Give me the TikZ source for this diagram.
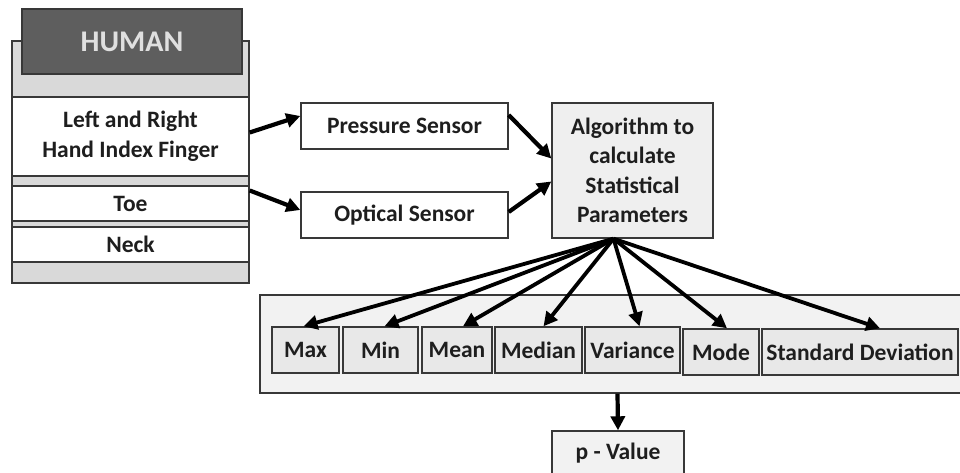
\documentclass[tikz,border=0pt]{standalone}
\usepackage{fontspec}
\setmainfont{Carlito}
\usepackage{tikz}
\usetikzlibrary{arrows.meta,positioning,calc}
\definecolor{edge}{HTML}{383838}
\definecolor{shell}{HTML}{D9D9D9}
\definecolor{slate}{HTML}{5E5E5E}
\definecolor{pale}{HTML}{F2F2F2}
\definecolor{cell}{HTML}{E8E8E8}
\definecolor{ink}{HTML}{1E1E1E}

\begin{document}
\begin{tikzpicture}[x=1pt, y=1pt,
  box/.style={draw=edge, line width=1.4pt, inner sep=0pt, align=center, text=ink,
    font=\fontsize{23.5}{29.5}\selectfont\bfseries},
  stat/.style={box, fill=cell, minimum height=46pt},
  arr/.style={line width=4.2pt, -{Triangle[length=14pt,width=14pt]}}]
  \useasboundingbox (0,0) rectangle (960,473);

  % Body parts stacked on the grey shell
  \node[box, fill=shell, minimum width=237pt, minimum height=242pt] (shell) at (130.5,311) {};
  \node[box, fill=slate, text=white!88!black, minimum width=220pt, minimum height=65pt,
    font=\fontsize{30}{32}\selectfont\bfseries] (human) at (132,431.5) {HUMAN};
  \node[box, fill=white, minimum width=237pt, minimum height=79pt] (finger) at (130.5,336.5) {Left and Right\\Hand Index Finger};
  \node[box, fill=white, minimum width=237pt, minimum height=35pt] (toe) at (130.5,269.5) {Toe};
  \node[box, fill=white, minimum width=237pt, minimum height=35pt] (neck) at (130.5,228.5) {Neck};

  % Sensors and the algorithm block
  \node[box, fill=white, minimum width=207pt, minimum height=46pt] (pressure) at (404.5,347) {Pressure Sensor};
  \node[box, fill=white, minimum width=207pt, minimum height=46pt] (optical) at (404.5,258) {Optical Sensor};
  \node[box, fill=cell!70!white, minimum width=161pt, minimum height=135pt] (algo) at (632.5,302.5)
    {Algorithm to\\calculate\\Statistical\\Parameters};

  \draw[arr] ([yshift=4pt]finger.east) -- ([yshift=10pt]pressure.west);
  \draw[arr] ([yshift=13pt]toe.east) -- ([yshift=5pt]optical.west);
  \draw[arr] ([yshift=11pt]pressure.east) -- ([yshift=12pt]algo.west);
  \draw[arr] ([yshift=3pt]optical.east) -- ([yshift=-11pt]algo.west);

  % Statistical parameters
  \node[box, fill=pale, minimum width=705pt, minimum height=98pt] (panel) at (612.5,129) {};
  \node[stat, minimum width=67pt] (max) at (305.5,123) {Max};
  \node[stat, minimum width=75pt] (min) at (380.5,123) {Min};
  \node[stat, minimum width=70pt] (mean) at (457,123) {Mean};
  \node[stat, minimum width=87pt] (median) at (538.5,123) {Median};
  \node[stat, minimum width=95pt] (variance) at (632.5,123) {Variance};
  \node[stat, minimum width=76pt] (mode) at (721,121) {Mode};
  \node[stat, minimum width=196pt] (stddev) at (860,121) {Standard Deviation};

  \coordinate (fan) at ([xshift=-19pt]algo.south);
  \foreach \p/\dx in {max/-2, min/4, mean/6, median/5, variance/7, mode/6, stddev/20}
    \draw[arr, line width=3.8pt] (fan) -- ([xshift=\dx pt]\p.north);

  % Result
  \node[box, fill=pale, minimum width=132pt, minimum height=45pt] (pval) at (618,19.5) {p - Value};
  \draw[arr] ([xshift=5pt]panel.south) -- (pval.north);
\end{tikzpicture}
\end{document}
